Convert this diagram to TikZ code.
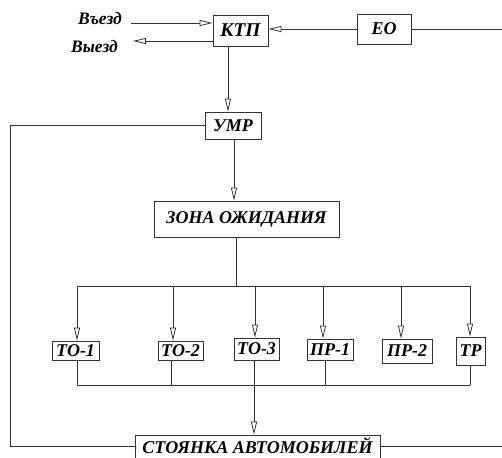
\documentclass[tikz,border=0pt]{standalone}
\usepackage{fontspec}
\setmainfont{Liberation Serif}
\usetikzlibrary{arrows.meta}
\tikzset{
  x=1pt, y=-1pt,
  conn/.style={draw=black!80, line width=0.8pt},
  arr/.style={conn, -{Triangle[open, length=13pt, width=6pt, line width=0.8pt]}},
  box/.style={draw=black!80, line width=0.8pt, rectangle, inner sep=0pt,
              font=\fontsize{18}{18}\selectfont\bfseries\itshape},
  lbl/.style={inner sep=0pt, font=\fontsize{17.5}{17.5}\selectfont\bfseries\itshape},
}
\begin{document}
\begin{tikzpicture}
\useasboundingbox[fill=white] (0,0) rectangle (502,457);
% boxes
\node[box, minimum width=55pt, minimum height=31pt, font=\fontsize{19.5}{19.5}\selectfont\bfseries\itshape] (ktp) at (240.5,30.5) {КТП};
\node[box, minimum width=54pt, minimum height=30pt] (eo) at (384,29) {ЕО};
\node[box, minimum width=56pt, minimum height=27pt] (umr) at (233,125.5) {УМР};
\node[box, minimum width=185pt, minimum height=36pt] (zone) at (246.5,219) {ЗОНА ОЖИДАНИЯ};
\node[box, minimum width=47pt, minimum height=19pt] (to1) at (75.5,350.5) {ТО-1};
\node[box, minimum width=45pt, minimum height=19pt] (to2) at (180.5,350.5) {ТО-2};
\node[box, minimum width=45pt, minimum height=22pt] (to3) at (256.5,349) {ТО-3};
\node[box, minimum width=46pt, minimum height=21pt] (pr1) at (330,349.5) {ПР-1};
\node[box, minimum width=50pt, minimum height=24pt] (pr2) at (407,351) {ПР-2};
\node[box, minimum width=29pt, minimum height=28pt] (tr) at (470.5,351) {ТР};
\node[box, minimum width=245pt, minimum height=30pt] (st) at (257.5,450) {};
\node[lbl, font=\fontsize{18}{18}\selectfont\bfseries\itshape, anchor=base] (stt) at (257.5,453) {СТОЯНКА АВТОМОБИЛЕЙ};
% labels
\node[lbl, anchor=base east] (vin) at (122,25) {Въезд};
\node[lbl, anchor=base east] (vout) at (118,53) {Выезд};
% coordinates
\coordinate (inS) at (131,23);
\coordinate (outE) at (133,41);
\coordinate (eoR) at (502,29);
\coordinate (lc1) at (10,125);
\coordinate (lc2) at (10,446);
\coordinate (stR) at (502,446);
\coordinate (bz) at (236,286);
\coordinate (b1) at (77,286);
\coordinate (b2) at (173,286);
\coordinate (b3) at (255,286);
\coordinate (b4) at (323,286);
\coordinate (b5) at (401,286);
\coordinate (b6) at (470,286);
\coordinate (c1) at (77,385);
\coordinate (c2) at (171,385);
\coordinate (c3) at (254,385);
\coordinate (c4) at (325,385);
\coordinate (c6) at (470,385);
% connectors
\draw[arr] (inS) -- (inS -| ktp.west);
\draw[arr] (outE -| ktp.west) -- (outE);
\draw[arr] (eo.west) -- (eo.west -| ktp.east);
\draw[conn] (eo.east) -- (eoR);
\draw[arr] ([xshift=-12.5pt]ktp.south) -- ([xshift=-5pt]umr.north);
\draw[arr] ([xshift=1pt]umr.south) -- ([xshift=-12.5pt]zone.north);
\draw[conn] (umr.west |- lc1) -- (lc1) -- (lc2) -- (lc2 -| st.west);
\draw[conn] (stR -| st.east) -- (stR);
\draw[conn] (bz |- zone.south) -- (bz);
\draw[conn] (b1) -- (b6);
\draw[arr] (b1) -- (b1 |- to1.north);
\draw[arr] (b2) -- (b2 |- to2.north);
\draw[arr] (b3) -- (b3 |- to3.north);
\draw[arr] (b4) -- (b4 |- pr1.north);
\draw[arr] (b5) -- (b5 |- pr2.north);
\draw[arr] (b6) -- (b6 |- tr.north);
\draw[conn] (c1 |- to1.south) -- (c1);
\draw[conn] (c2 |- to2.south) -- (c2);
\draw[conn] (c3 |- to3.south) -- (c3);
\draw[conn] (c4 |- pr1.south) -- (c4);
\draw[conn] (c6 |- tr.south) -- (c6);
\draw[conn] (c1) -- (c6);
\draw[arr] (c3) -- (c3 |- st.north);
\end{tikzpicture}
\end{document}
